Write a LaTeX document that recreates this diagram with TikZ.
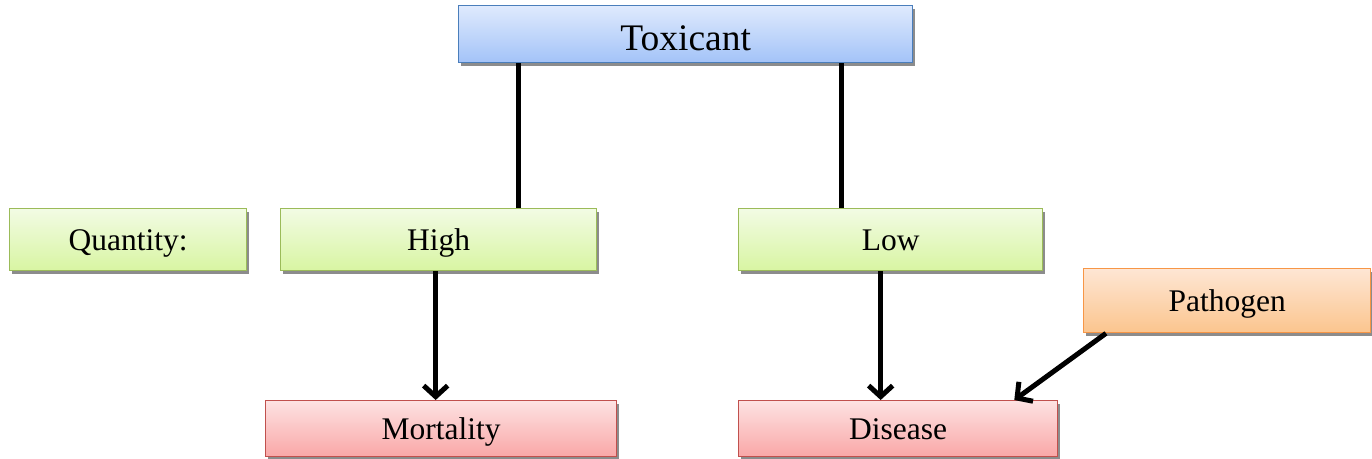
\documentclass[tikz,border=0pt]{standalone}
\usepackage{fontspec}
\setmainfont{Liberation Serif}
\usetikzlibrary{arrows.meta,shadows,calc}
\definecolor{blueB}{HTML}{4A7EBB}
\definecolor{blueT}{HTML}{DFEAFD}
\definecolor{blueD}{HTML}{A3C3F8}
\definecolor{greenB}{HTML}{9BBB59}
\definecolor{greenT}{HTML}{F2FBE4}
\definecolor{greenD}{HTML}{D8F5A2}
\definecolor{orangeB}{HTML}{F79646}
\definecolor{orangeT}{HTML}{FEE6D4}
\definecolor{orangeD}{HTML}{FBC58E}
\definecolor{redB}{HTML}{C0504D}
\definecolor{redT}{HTML}{FDE2E2}
\definecolor{redD}{HTML}{F9A7A7}
\tikzset{
  box/.style={draw, line width=1.3pt, inner sep=0pt, anchor=north west,
    text height=21pt, text depth=0pt,
    drop shadow={shadow xshift=2pt, shadow yshift=-3pt, fill=black!45, opacity=1}},
  bluebox/.style={box, draw=blueB, top color=blueT, bottom color=blueD,
    text height=33pt, font=\fontsize{37.5}{42}\selectfont},
  greenbox/.style={box, draw=greenB, top color=greenT, bottom color=greenD, font=\fontsize{31.5}{36}\selectfont},
  orangebox/.style={box, draw=orangeB, top color=orangeT, bottom color=orangeD, font=\fontsize{31.5}{36}\selectfont},
  redbox/.style={box, draw=redB, top color=redT, bottom color=redD, font=\fontsize{31.5}{36}\selectfont},
  conn/.style={line width=5pt},
  arr/.style={line width=5pt, -{Straight Barb[length=11pt,width=24pt]}},
}
\begin{document}
\begin{tikzpicture}[x=1pt,y=-1pt]
\useasboundingbox (0,0) rectangle (1372,458);
\node[bluebox, minimum width=454pt, minimum height=57pt] (tox) at (458,5) {Toxicant};
\node[greenbox, minimum width=237pt, minimum height=62pt] (qty) at (9,208) {Quantity:};
\node[greenbox, minimum width=316pt, minimum height=62pt] (high) at (280,208) {High};
\node[greenbox, minimum width=304pt, minimum height=62pt] (low) at (738,208) {Low};
\node[orangebox, minimum width=287pt, minimum height=64pt] (path) at (1083,268) {Pathogen};
\node[redbox, minimum width=351pt, minimum height=56pt] (mort) at (265,400) {Mortality};
\node[redbox, minimum width=319pt, minimum height=56pt] (dis) at (738,400) {Disease};
\coordinate (t1) at ([xshift=60pt]tox.south west);
\coordinate (t2) at ([xshift=383pt]tox.south west);
\draw[conn] (t1) -- (t1 |- high.north);
\draw[conn] (t2) -- (t2 |- low.north);
\coordinate (h1) at ([xshift=-3pt]high.south);
\draw[arr] (h1) -- (h1 |- mort.north);
\coordinate (l1) at ([xshift=-10pt]low.south);
\draw[arr] (l1) -- (l1 |- dis.north);
\draw[arr] ([xshift=23pt]path.south west) -- ([xshift=-44pt]dis.north east);
\end{tikzpicture}
\end{document}
